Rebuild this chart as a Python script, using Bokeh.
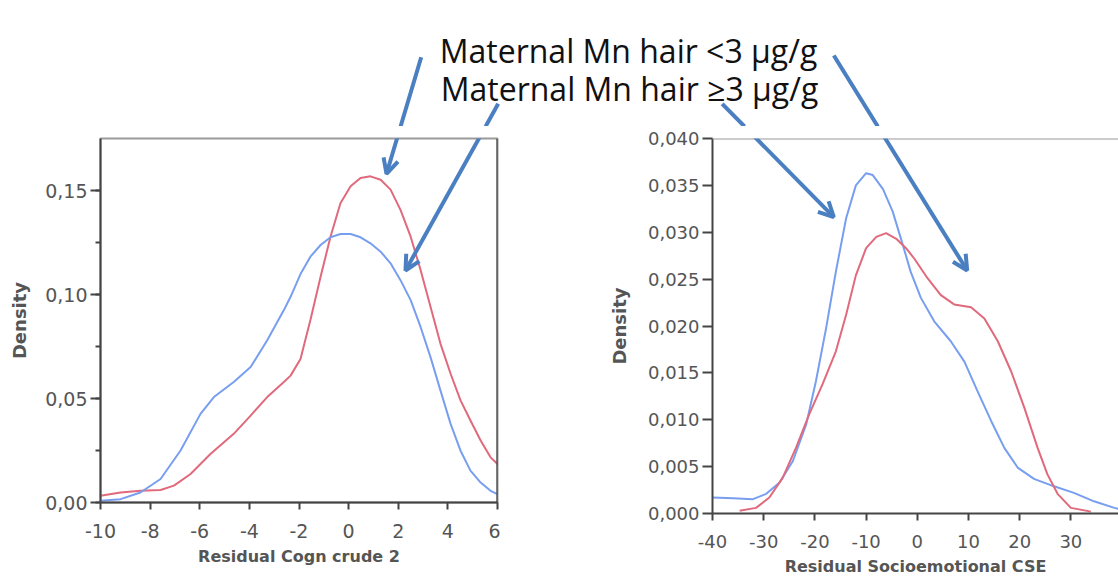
from bokeh.plotting import figure
from bokeh.layouts import column, row
from bokeh.models import Range1d, SingleIntervalTicker, CustomJSTickFormatter, Span, Arrow, OpenHead
from bokeh.embed import file_html
from bokeh.resources import INLINE
from bokeh.core.properties import value

# ---------------- data ----------------
title_lines = ["Maternal Mn hair <3 \u00b5g/g", "Maternal Mn hair \u22653 \u00b5g/g"]

cogn_x_label = "Residual Cogn crude 2"
cse_x_label = "Residual Socioemotional CSE"
y_label = "Density"

# Left panel: Residual Cogn crude 2  (red = <3 ug/g, blue = >=3 ug/g)
cogn_low_x = [-10, -9.19, -8.39, -7.58, -7.04, -6.37, -5.57, -4.63, -3.95, -3.28, -2.61, -2.34, -1.94,
              -1.54, -1.13, -0.73, -0.33, 0.08, 0.48, 0.88, 1.29, 1.69, 2.09, 2.50, 2.90, 3.30, 3.70,
              4.11, 4.51, 4.91, 5.32, 5.72, 6.0]
cogn_low_y = [0.0032, 0.0048, 0.0056, 0.0060, 0.0081, 0.0137, 0.0233, 0.0330, 0.0418, 0.0507, 0.0579,
              0.0610, 0.0690, 0.0877, 0.1085, 0.1278, 0.1439, 0.1520, 0.1560, 0.1568, 0.1552, 0.1504,
              0.1407, 0.1278, 0.1118, 0.0941, 0.0764, 0.0619, 0.0491, 0.0394, 0.0298, 0.0217, 0.0185]

cogn_high_x = [-10, -9.19, -8.39, -7.58, -6.78, -5.97, -5.43, -4.63, -3.95, -3.28, -2.61, -2.34, -1.94,
               -1.54, -1.13, -0.73, -0.33, 0.08, 0.48, 0.88, 1.29, 1.69, 2.09, 2.50, 2.90, 3.30, 3.70,
               4.11, 4.51, 4.91, 5.32, 5.72, 6.0]
cogn_high_y = [0.0008, 0.0016, 0.0048, 0.0113, 0.0249, 0.0426, 0.0507, 0.0579, 0.0651, 0.0780, 0.0925,
               0.0989, 0.1098, 0.1182, 0.1238, 0.1275, 0.1291, 0.1291, 0.1275, 0.1246, 0.1206, 0.1150,
               0.1069, 0.0973, 0.0844, 0.0699, 0.0539, 0.0378, 0.0249, 0.0153, 0.0096, 0.0056, 0.0040]

# Right panel: Residual Socioemotional CSE
cse_high_x = [-40, -36.0, -32.1, -29.5, -26.9, -24.3, -21.7, -19.8, -17.8, -15.9, -13.9, -12.0, -10.0,
              -8.7, -6.7, -4.8, -2.8, -1.3, 0.7, 3.3, 6.5, 9.2, 11.8, 14.4, 17.0, 19.6, 22.8, 26.7,
              30.6, 34.5, 38.5, 39.3]
cse_high_y = [0.0017, 0.00163, 0.00153, 0.0021, 0.0033, 0.0056, 0.0095, 0.0141, 0.0198, 0.0258, 0.0315,
              0.0350, 0.0363, 0.0361, 0.0346, 0.0322, 0.0286, 0.0258, 0.0230, 0.0205, 0.0184, 0.0162,
              0.0130, 0.0099, 0.0070, 0.0049, 0.0037, 0.0029, 0.0022, 0.0013, 0.0006, 0.0005]

cse_low_x = [-34.7, -31.5, -28.9, -26.3, -23.7, -21.1, -18.5, -15.9, -13.9, -12.0, -10.0, -8.0, -6.1,
             -4.1, -2.2, -0.6, 2.0, 4.6, 7.2, 10.5, 13.1, 15.7, 18.3, 20.9, 23.5, 25.4, 27.4, 30.0, 33.9]
cse_low_y = [0.0003, 0.0006, 0.0017, 0.0038, 0.0070, 0.0106, 0.0138, 0.0173, 0.0212, 0.0254, 0.0283,
             0.0295, 0.0299, 0.0293, 0.0283, 0.0272, 0.0251, 0.0233, 0.0223, 0.0220, 0.0208, 0.0184,
             0.0152, 0.0113, 0.0070, 0.0042, 0.0021, 0.0006, 0.0002]

# ---------------- styling / layout constants ----------------
RED = "#e06a7c"
BLUE = "#789ef0"
ARROW = "#4a7fc1"
TOP_H = 126
LOW_H = 582 - TOP_H
W_LEFT = 500
W_RIGHT = 1118 - W_LEFT
FRAME_TOP = 138

# arrows in page pixels: (start, end)
arrows_px = [((420.7, 56.7), (386.0, 173.3)),   # <3  -> red (left)
             ((497.7, 103.3), (405.0, 270.0)),  # >=3 -> blue (left)
             ((721.7, 103.3), (833.3, 216.7)),  # >=3 -> blue (right)
             ((833.3, 55.0), (966.7, 270.0))]   # <3  -> red (right)


def split_at(seg, ycut):
    (x0, y0), (x1, y1) = seg
    t = (ycut - y0) / (y1 - y0)
    return (x0, y0), (x0 + t * (x1 - x0), ycut), (x1, y1)


# ---------------- top strip: title + arrow tails ----------------
top = figure(width=1118, height=TOP_H, x_range=Range1d(0, 1118), y_range=Range1d(TOP_H, 0),
             x_axis_type=None, y_axis_type=None, output_backend="svg", toolbar_location=None,
             min_border=0, outline_line_color=None, frame_align=False)
top.grid.visible = False
top.text(x=[628, 629], y=[50, 88], text=title_lines, text_align="center", text_baseline="alphabetic",
         text_font=value("Open Sans"), text_font_size="32px", text_color="#111111")
sx0, sy0, sx1, sy1 = [], [], [], []
for seg in arrows_px:
    a, m, b = split_at(seg, TOP_H)
    sx0.append(a[0]); sy0.append(a[1]); sx1.append(m[0]); sy1.append(m[1])
top.segment(x0=sx0, y0=sy0, x1=sx1, y1=sy1, line_width=4, line_color=ARROW)


def fmt(decimals):
    return CustomJSTickFormatter(code="return tick.toFixed(%d).replace('.', ',');" % decimals)


def style(p, tick_size, ylabel_standoff):
    p.grid.visible = False
    p.background_fill_color = "white"
    for ax in p.axis:
        ax.axis_line_color = "#444444"
        ax.axis_line_width = 2
        ax.major_tick_line_color = "#444444"
        ax.major_tick_line_width = 2
        ax.major_tick_in = 0
        ax.minor_tick_line_color = None
        ax.major_label_text_font = "DejaVu Sans"
        ax.major_label_text_color = "#555555"
        ax.axis_label_text_font = "DejaVu Sans"
        ax.axis_label_text_font_style = "bold"
        ax.axis_label_text_color = "#555555"
    p.xaxis.major_tick_out = 7
    p.xaxis.major_label_standoff = 14
    p.xaxis.major_label_text_font_size = tick_size
    p.xaxis.axis_label_text_font_size = "16px"
    p.xaxis.axis_label_standoff = 6
    p.yaxis.major_tick_out = 10
    p.yaxis.major_label_standoff = 3
    p.yaxis.major_label_text_font_size = tick_size
    p.yaxis.axis_label_text_font_size = "18px"
    p.yaxis.axis_label_standoff = ylabel_standoff


def page_to_data(px, py, frame, xr, yr):
    fx0, fx1, fy0, fy1 = frame
    x = xr[0] + (px - fx0) / (fx1 - fx0) * (xr[1] - xr[0])
    y = yr[1] - (py - fy0) / (fy1 - fy0) * (yr[1] - yr[0])
    return x, y


def add_arrow(p, seg, frame, xr, yr):
    a, m, b = split_at(seg, TOP_H)
    xs, ys = page_to_data(m[0], m[1], frame, xr, yr)
    xe, ye = page_to_data(b[0], b[1], frame, xr, yr)
    p.add_layout(Arrow(x_start=xs, y_start=ys, x_end=xe, y_end=ye, line_width=4, line_color=ARROW,
                       end=OpenHead(size=15, line_width=4, line_color=ARROW)))


# ---------------- left panel ----------------
L_XR = (-10, 6)
L_YR = (0, 0.175)
L_BOTTOM = 80
left = figure(width=W_LEFT, height=LOW_H, x_range=Range1d(*L_XR), y_range=Range1d(*L_YR),
              output_backend="svg", toolbar_location=None, frame_align=False,
              min_border_left=100, min_border_right=3, min_border_top=FRAME_TOP - TOP_H,
              min_border_bottom=L_BOTTOM,
              x_axis_label=cogn_x_label, y_axis_label=y_label,
              outline_line_color="#9a9a9a", outline_line_width=2)
left.xaxis.ticker = SingleIntervalTicker(interval=2, num_minor_ticks=0)
left.yaxis.ticker = SingleIntervalTicker(interval=0.05, num_minor_ticks=2)
left.xaxis.formatter = CustomJSTickFormatter(code="return tick.toString();")
left.yaxis.formatter = fmt(2)
style(left, "19px", 12)
left.yaxis.minor_tick_line_color = "#444444"
left.yaxis.minor_tick_line_width = 2
left.yaxis.minor_tick_in = 0
left.yaxis.minor_tick_out = 5
left.line(cogn_low_x, cogn_low_y, line_color=RED, line_width=2, line_join="round")
left.line(cogn_high_x, cogn_high_y, line_color=BLUE, line_width=2, line_join="round")
left.add_layout(Span(location=L_XR[1], dimension="height", line_color="#333333", line_width=2))
L_FRAME = (100, W_LEFT - 3, FRAME_TOP, TOP_H + LOW_H - L_BOTTOM)
for seg in arrows_px[:2]:
    add_arrow(left, seg, L_FRAME, L_XR, L_YR)

# ---------------- right panel ----------------
R_XR = (-40, 39.3)
R_YR = (0, 0.040)
R_BOTTOM = 69
right = figure(width=W_RIGHT, height=LOW_H, x_range=Range1d(*R_XR), y_range=Range1d(*R_YR),
               output_backend="svg", toolbar_location=None, frame_align=False,
               min_border_left=212, min_border_right=0, min_border_top=FRAME_TOP - TOP_H,
               min_border_bottom=R_BOTTOM,
               x_axis_label=cse_x_label, y_axis_label=y_label, outline_line_color=None)
right.xaxis.ticker = SingleIntervalTicker(interval=10, num_minor_ticks=0)
right.yaxis.ticker = SingleIntervalTicker(interval=0.005, num_minor_ticks=0)
right.xaxis.formatter = CustomJSTickFormatter(code="return tick.toString();")
right.yaxis.formatter = fmt(3)
style(right, "18px", 15)
right.line(cse_high_x, cse_high_y, line_color=BLUE, line_width=2, line_join="round")
right.line(cse_low_x, cse_low_y, line_color=RED, line_width=2, line_join="round")
right.add_layout(Span(location=R_YR[1], dimension="width", line_color="#9a9a9a", line_width=2))
R_FRAME = (212 + W_LEFT, 1118, FRAME_TOP, TOP_H + LOW_H - R_BOTTOM)
for seg in arrows_px[2:]:
    add_arrow(right, seg, R_FRAME, R_XR, R_YR)

layout = column(top, row(left, right, spacing=0), spacing=0)
open("out.html", "w").write(file_html(layout, INLINE))
